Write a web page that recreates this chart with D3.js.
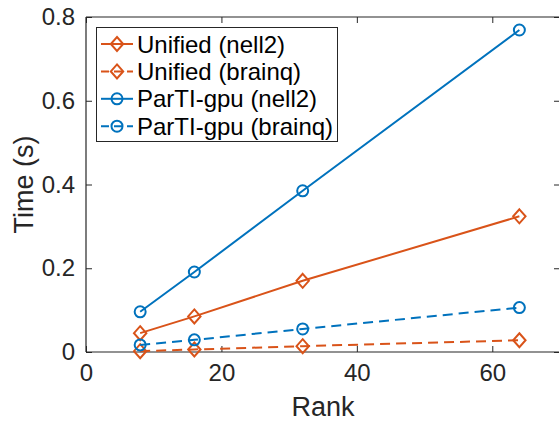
<!DOCTYPE html>
<html><head><meta charset="utf-8">
<script src="https://cdn.jsdelivr.net/npm/d3@7"></script>
<style>body{margin:0;background:#fff}svg{display:block}</style>
</head><body>
<svg id="c" width="559" height="423"></svg>
<script>
const ranks = [8, 16, 32, 64];
const unifiedNell2 = [0.045, 0.085, 0.170, 0.324];
const unifiedBrainq = [0.002, 0.006, 0.014, 0.028];
const partiNell2 = [0.096, 0.191, 0.385, 0.769];
const partiBrainq = [0.017, 0.029, 0.055, 0.106];
const seriesNames = ["Unified (nell2)", "Unified (brainq)", "ParTI-gpu (nell2)", "ParTI-gpu (brainq)"];
const xTicks = [0, 20, 40, 60];
const yTicks = [0, 0.2, 0.4, 0.6, 0.8];

const orange = "#D95319", blue = "#0072BD", axisCol = "#262626";
const series = [
  {name: seriesNames[0], vals: unifiedNell2, color: orange, dash: null, marker: "diamond"},
  {name: seriesNames[1], vals: unifiedBrainq, color: orange, dash: "10,6", marker: "diamond"},
  {name: seriesNames[2], vals: partiNell2, color: blue, dash: null, marker: "circle"},
  {name: seriesNames[3], vals: partiBrainq, color: blue, dash: "10,6", marker: "circle"}
];

const L = 86, R = 560, T = 17, B = 352;
const x = d3.scaleLinear().domain([0, 70]).range([L, R]);
const y = d3.scaleLinear().domain([0, 0.8]).range([B, T]);
const svg = d3.select("#c");
const font = "'Liberation Sans', Arial, Helvetica, sans-serif";

// axes box
const g = svg.append("g");
const ax = g.append("g").attr("transform", `translate(0,${B})`)
  .call(d3.axisBottom(x).tickValues(xTicks).tickSize(-6).tickPadding(12).tickFormat(d3.format("d")));
const axT = g.append("g").attr("transform", `translate(0,${T})`)
  .call(d3.axisTop(x).tickValues(xTicks).tickSize(-6).tickFormat(""));
const ay = g.append("g").attr("transform", `translate(${L},0)`)
  .call(d3.axisLeft(y).tickValues(yTicks).tickSize(-6).tickPadding(11).tickFormat(d => d === 0 ? "0" : d3.format(".1f")(d)));
const ayR = g.append("g").attr("transform", `translate(${R},0)`)
  .call(d3.axisRight(y).tickValues(yTicks).tickSize(-6).tickFormat(""));
[ax, axT, ay, ayR].forEach(a => {
  a.selectAll("path.domain").attr("stroke", axisCol).attr("stroke-width", 1.2);
  a.selectAll(".tick line").attr("stroke", axisCol).attr("stroke-width", 1);
  a.selectAll("text").attr("fill", axisCol).style("font-family", font).style("font-size", "24px");
});
ax.selectAll("path.domain").attr("d", `M${L},0H${R}`);
axT.selectAll("path.domain").attr("d", `M${L},0H${R}`);
ay.selectAll("path.domain").attr("d", `M0,${B}V${T}`);
ayR.selectAll("path.domain").attr("d", `M0,${B}V${T}`);

// labels
svg.append("text").attr("x", (L + R) / 2).attr("y", 416).attr("text-anchor", "middle")
  .attr("fill", axisCol).style("font-family", font).style("font-size", "27px").text("Rank");
svg.append("text").attr("transform", `translate(33,${(T + B) / 2}) rotate(-90)`).attr("text-anchor", "middle")
  .attr("fill", axisCol).style("font-family", font).style("font-size", "27px").text("Time (s)");

function drawMarker(sel, type, cx, cy, color) {
  if (type === "circle") {
    sel.append("circle").attr("cx", cx).attr("cy", cy).attr("r", 5.5)
      .attr("fill", "none").attr("stroke", color).attr("stroke-width", 2);
  } else {
    const h = 7, w = 6.2;
    sel.append("path").attr("d", `M${cx},${cy - h}L${cx + w},${cy}L${cx},${cy + h}L${cx - w},${cy}Z`)
      .attr("fill", "none").attr("stroke", color).attr("stroke-width", 2);
  }
}

const line = d3.line().x((d, i) => x(ranks[i])).y(d => y(d));
series.forEach(s => {
  svg.append("path").datum(s.vals).attr("d", line).attr("fill", "none")
    .attr("stroke", s.color).attr("stroke-width", 2).attr("stroke-dasharray", s.dash);
  const mg = svg.append("g");
  s.vals.forEach((v, i) => drawMarker(mg, s.marker, x(ranks[i]), y(v), s.color));
});

// legend
const lg = svg.append("g");
lg.append("rect").attr("x", 96.5).attr("y", 27.5).attr("width", 241).attr("height", 114)
  .attr("fill", "#fff").attr("stroke", axisCol).attr("stroke-width", 1);
series.forEach((s, i) => {
  const cy = 44 + i * 27.4;
  lg.append("line").attr("x1", 101).attr("x2", 133).attr("y1", cy).attr("y2", cy)
    .attr("stroke", s.color).attr("stroke-width", 2).attr("stroke-dasharray", s.dash ? "8,5" : null);
  drawMarker(lg, s.marker, 117, cy, s.color);
  lg.append("text").attr("x", 137).attr("y", cy).attr("dy", "0.36em").attr("fill", "#000")
    .style("font-family", font).style("font-size", "24px").text(s.name);
});
</script>
</body></html>
